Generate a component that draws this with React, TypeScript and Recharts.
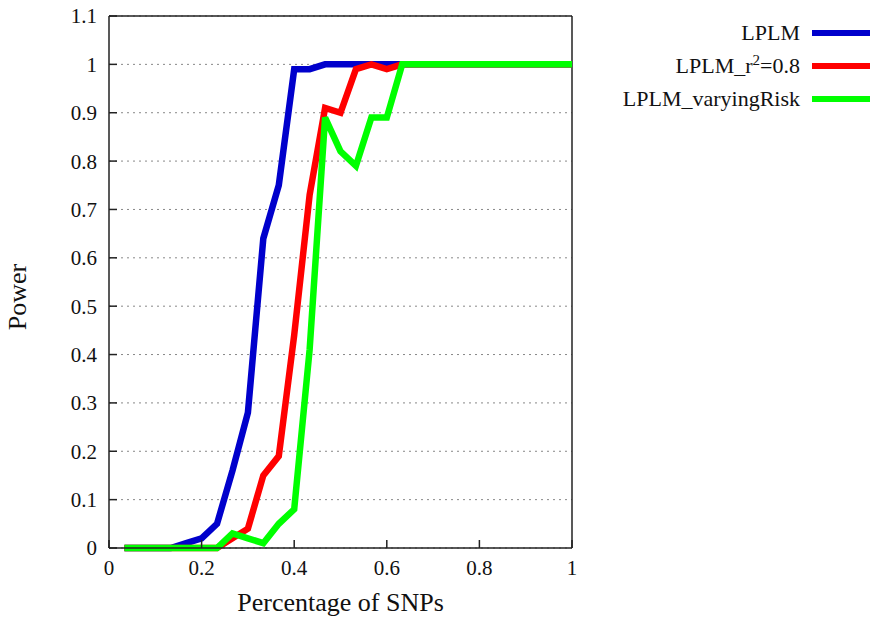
import { LineChart, Line, XAxis, YAxis, CartesianGrid, ReferenceLine } from "recharts";

const xValues = [
  0.0333, 0.0667, 0.1, 0.1333, 0.1667, 0.2, 0.2333, 0.2667, 0.3, 0.3333,
  0.3667, 0.4, 0.4333, 0.4667, 0.5, 0.5333, 0.5667, 0.6, 0.6333, 0.6667,
  0.7, 0.7333, 0.7667, 0.8, 0.8333, 0.8667, 0.9, 0.9333, 0.9667, 1.0,
];

const lplm = [
  0, 0, 0, 0, 0.01, 0.02, 0.05, 0.16, 0.28, 0.64,
  0.75, 0.99, 0.99, 1, 1, 1, 1, 1, 1, 1,
  1, 1, 1, 1, 1, 1, 1, 1, 1, 1,
];

const lplmR2 = [
  0, 0, 0, 0, 0, 0, 0, 0.02, 0.04, 0.15,
  0.19, 0.44, 0.73, 0.91, 0.9, 0.99, 1, 0.99, 1, 1,
  1, 1, 1, 1, 1, 1, 1, 1, 1, 1,
];

const lplmVarying = [
  0, 0, 0, 0, 0, 0, 0, 0.03, 0.02, 0.01,
  0.05, 0.08, 0.41, 0.89, 0.82, 0.79, 0.89, 0.89, 1, 1,
  1, 1, 1, 1, 1, 1, 1, 1, 1, 1,
];

const xTicks = [0, 0.2, 0.4, 0.6, 0.8, 1];
const yTicks = [0, 0.1, 0.2, 0.3, 0.4, 0.5, 0.6, 0.7, 0.8, 0.9, 1, 1.1];

const BLUE = "#0000cc";
const RED = "#ff0000";
const GREEN = "#00ff00";
const FONT = "'Times New Roman', 'Liberation Serif', Tinos, 'Nimbus Roman', 'DejaVu Serif', serif";

const data = xValues.map((x, i) => ({
  x,
  lplm: lplm[i],
  r2: lplmR2[i],
  varying: lplmVarying[i],
}));

const tickStyle = { fontFamily: FONT, fontSize: 21, fill: "#111" };

function LegendRow({ color, children }: { color: string; children: React.ReactNode }) {
  return (
    <div style={{ display: "flex", alignItems: "center", justifyContent: "flex-end", height: 33 }}>
      <span style={{ fontFamily: FONT, fontSize: 22, color: "#111", marginRight: 12 }}>{children}</span>
      <span style={{ display: "inline-block", width: 58, height: 6, background: color }} />
    </div>
  );
}

export default function App() {
  return (
    <div style={{ position: "absolute", left: 0, top: 0, width: 870, height: 619, background: "#fff" }}>
      <LineChart
        width={870}
        height={619}
        data={data}
        margin={{ top: 16, right: 298, bottom: 0, left: 49 }}
      >
        <CartesianGrid vertical={false} stroke="#888" strokeDasharray="2 4" />
        <XAxis
          dataKey="x"
          type="number"
          domain={[0, 1]}
          ticks={xTicks}
          tickFormatter={(v: number) => String(v)}
          height={71}
          tick={tickStyle}
          tickSize={-8}
          tickMargin={20}
          stroke="#222"
          axisLine={{ stroke: "#222", strokeWidth: 1.5 }}
          tickLine={{ stroke: "#222", strokeWidth: 1.5 }}
          label={{
            value: "Percentage of SNPs",
            position: "insideBottom",
            offset: 8,
            style: { fontFamily: FONT, fontSize: 26, fill: "#111" },
          }}
        />
        <YAxis
          type="number"
          domain={[0, 1.1]}
          ticks={yTicks}
          tickFormatter={(v: number) => String(v)}
          width={60}
          tick={tickStyle}
          tickSize={-8}
          tickMargin={20}
          axisLine={{ stroke: "#222", strokeWidth: 1.5 }}
          tickLine={{ stroke: "#222", strokeWidth: 1.5 }}
          label={{
            content: () => (
              <text
                x={26}
                y={297}
                transform="rotate(-90 26 297)"
                textAnchor="middle"
                style={{ fontFamily: FONT, fontSize: 26, fill: "#111" }}
              >
                Power
              </text>
            ),
          }}
        />
        <ReferenceLine y={1.1} stroke="#222" strokeWidth={1.5} />
        <ReferenceLine x={1} stroke="#222" strokeWidth={1.5} />
        <Line type="linear" dataKey="lplm" stroke={BLUE} strokeWidth={6.5} dot={false} isAnimationActive={false} />
        <Line type="linear" dataKey="r2" stroke={RED} strokeWidth={6.5} dot={false} isAnimationActive={false} />
        <Line type="linear" dataKey="varying" stroke={GREEN} strokeWidth={6.5} dot={false} isAnimationActive={false} />
      </LineChart>
      <div style={{ position: "absolute", left: 560, top: 16, width: 310 }}>
        <LegendRow color={BLUE}>LPLM</LegendRow>
        <LegendRow color={RED}>
          LPLM_r<sup style={{ fontSize: 15 }}>2</sup>=0.8
        </LegendRow>
        <LegendRow color={GREEN}>LPLM_varyingRisk</LegendRow>
      </div>
    </div>
  );
}
